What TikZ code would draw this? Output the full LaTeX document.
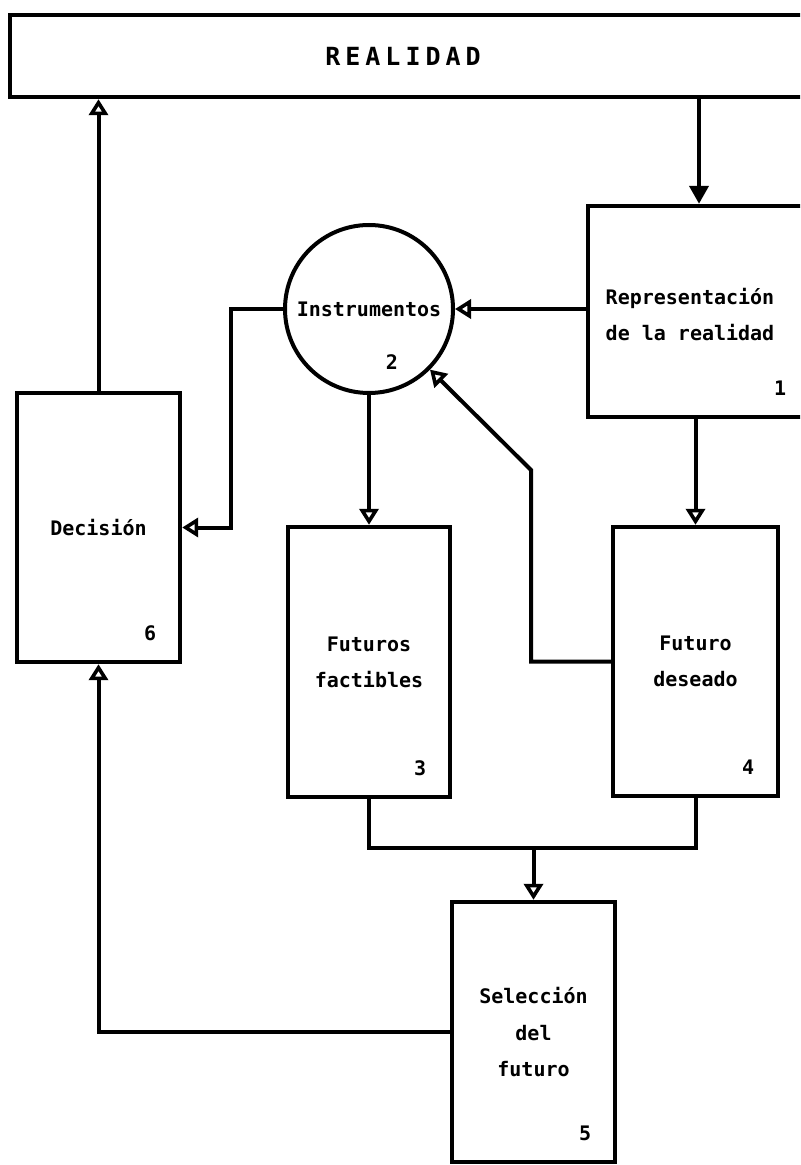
\documentclass[tikz,border=0pt]{standalone}
\usepackage{fontspec}
\setmonofont{DejaVu Sans Mono}
\usetikzlibrary{arrows.meta,calc}

\tikzset{
  box/.style={draw, rectangle, line width=2.2pt, inner sep=0pt},
  lbl/.style={font=\ttfamily\bfseries\fontsize{10}{18}\selectfont, align=center},
  num/.style={font=\ttfamily\bfseries\fontsize{10}{12}\selectfont},
  link/.style={line width=2pt},
  opentip/.style={-{Triangle[open, length=8pt, width=9.5pt, line width=1.8pt]}},
  solidtip/.style={-{Triangle[length=9pt, width=9.5pt]}},
}

\begin{document}
\begin{tikzpicture}[x=0.5pt, y=-0.5pt]
    \useasboundingbox (0,0) rectangle (800,1165);
    \clip (0,0) rectangle (800,1165);
    % Boxes
    \node[box, minimum width=400pt, minimum height=41pt] (real) at (410,56) {};
    \node[font=\ttfamily\bfseries\fontsize{12.5}{14}\selectfont\addfontfeature{LetterSpace=20}] (treal) at (403,56) {REALIDAD};
    \node[box, minimum width=111pt, minimum height=105.5pt] (b1) at (699,311.5) {};
    \node[lbl] (t1) at (690,315) {Representación\\de la realidad};
    \node[box, circle, line width=2pt, minimum size=84pt, lbl] (c2) at (369,309) {Instrumentos};
    \node[num] (n2) at (392,362) {2};
    \node[box, lbl, minimum width=81pt, minimum height=135pt] (b3) at (369,662) {Futuros\\factibles};
    \node[box, lbl, minimum width=82.5pt, minimum height=134.5pt] (b4) at (695.5,661.5) {Futuro\\deseado};
    \node[box, lbl, minimum width=81.5pt, minimum height=130pt] (b5) at (533.5,1032) {Selección\\del\\futuro};
    \node[box, lbl, minimum width=81.5pt, minimum height=134.5pt] (b6) at (98.5,527.5) {Decisión};
    % Box numbers
    \foreach \b in {1,3,4,5,6}
        \node[num] (n\b) at ($(b\b.south east)+(-32,-31)$) {\b};
    % Connectors
    \coordinate (k) at (531,470);
    \coordinate (m) at (533.5,848);
    \draw[link, solidtip] (real.south -| b1.north) -- (b1.north);
    \draw[link, opentip] (b6.north) -- (b6.north |- real.south);
    \draw[link, opentip] (b1.west |- c2.east) -- (c2.east);
    \draw[link, opentip] (c2.west) -- ++(-52,0) |- (b6.east);
    \draw[link, opentip] (c2.south) -- (b3.north);
    \draw[link, opentip] (b1.south -| b4.north) -- (b4.north);
    \draw[link, opentip] (b4.west) -| (k) -- (c2);
    \draw[link] (b3.south) |- (m) -| (b4.south);
    \draw[link, opentip] (m) -- (b5.north);
    \draw[link, opentip] (b5.west) -| (b6.south);
\end{tikzpicture}
\end{document}
